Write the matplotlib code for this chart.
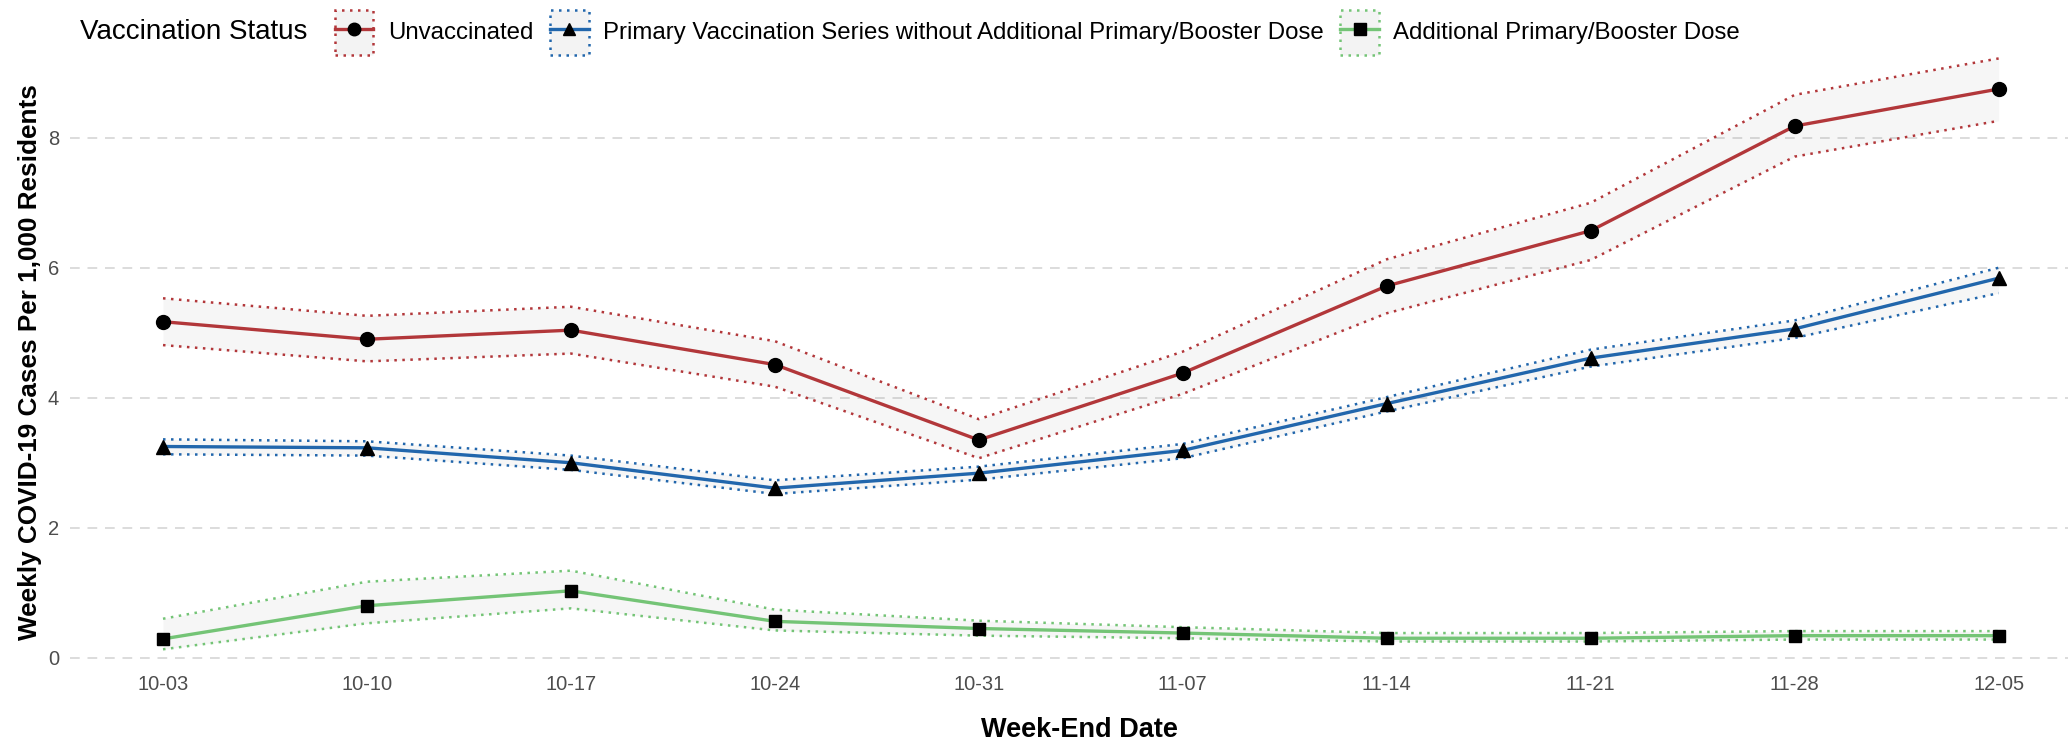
import matplotlib.pyplot as plt
from matplotlib.patches import Patch, Rectangle
from matplotlib.lines import Line2D
from matplotlib.legend_handler import HandlerPatch

plt.rcParams['font.family'] = ['Liberation Sans', 'DejaVu Sans']

# week-end dates and weekly cases per 1,000 residents (with CI bounds)
weeks = ["10-03", "10-10", "10-17", "10-24", "10-31",
         "11-07", "11-14", "11-21", "11-28", "12-05"]

unvax = [5.17, 4.90, 5.04, 4.51, 3.35, 4.38, 5.72, 6.57, 8.18, 8.75]
unvax_lo = [4.81, 4.56, 4.68, 4.17, 3.07, 4.06, 5.30, 6.12, 7.71, 8.26]
unvax_hi = [5.53, 5.26, 5.40, 4.87, 3.67, 4.71, 6.13, 7.00, 8.66, 9.22]

primary = [3.25, 3.23, 3.00, 2.61, 2.84, 3.19, 3.91, 4.61, 5.06, 5.84]
primary_lo = [3.13, 3.11, 2.89, 2.52, 2.74, 3.07, 3.79, 4.48, 4.92, 5.61]
primary_hi = [3.36, 3.33, 3.11, 2.73, 2.94, 3.29, 4.01, 4.74, 5.19, 6.00]

booster = [0.29, 0.80, 1.03, 0.56, 0.45, 0.38, 0.30, 0.30, 0.34, 0.34]
booster_lo = [0.13, 0.53, 0.76, 0.42, 0.34, 0.30, 0.25, 0.25, 0.28, 0.28]
booster_hi = [0.60, 1.17, 1.34, 0.74, 0.57, 0.47, 0.38, 0.38, 0.41, 0.41]

labels = ["Unvaccinated",
          "Primary Vaccination Series without Additional Primary/Booster Dose",
          "Additional Primary/Booster Dose"]
colors = ["#B2373A", "#2166AC", "#74C476"]
markers = ["o", "^", "s"]

series = [(unvax, unvax_lo, unvax_hi),
          (primary, primary_lo, primary_hi),
          (booster, booster_lo, booster_hi)]


def tall_box(legend, orig_handle, xdescent, ydescent, width, height, fontsize):
    # key box taller than the text row, like ggplot's ribbon keys
    extra = 8.5
    return Rectangle((-xdescent, -ydescent - extra - 1), width, height + 2 * extra)


fig = plt.figure(figsize=(20.7, 7.41), dpi=100)
ax = fig.add_axes([70 / 2070, 1 - 674 / 741, 1998 / 2070, (674 - 50) / 741])

x = list(range(len(weeks)))
dot = (0, (1, 2.2))
handles = []
for (y, lo, hi), c, m, lab in zip(series, colors, markers, labels):
    ax.fill_between(x, lo, hi, color="grey", alpha=0.07, lw=0, zorder=1)
    ax.plot(x, lo, color=c, lw=1.8, ls=dot, zorder=2)
    ax.plot(x, hi, color=c, lw=1.8, ls=dot, zorder=2)
    ms = 9 if m == "s" else 10
    ax.plot(x, y, color=c, lw=2.4, marker=m, ms=ms, mfc="black", mec="black", zorder=3)
    box = Patch(facecolor="#f3f3f3", edgecolor=c, linestyle=dot, linewidth=1.8)
    ln = Line2D([], [], color=c, lw=2.4, marker=m, ms=ms - 1, mfc="black", mec="black")
    handles.append((box, ln))

ax.set_xlim(-0.456, 9.34)
ax.set_ylim(-0.25, 9.35)
ax.set_xticks(x)
ax.set_xticklabels(weeks)
ax.set_yticks([0, 2, 4, 6, 8])
ax.tick_params(length=0, labelsize=14.5, colors="#4d4d4d")
ax.tick_params(axis="x", pad=1)
ax.tick_params(axis="y", pad=8)
ax.grid(axis="y", color="#dcdcdc", ls=(0, (5, 4)), lw=1.4)
ax.set_axisbelow(True)
for s in ax.spines.values():
    s.set_visible(False)

ax.set_xlabel("Week-End Date", fontsize=19.5, fontweight="bold")
ax.xaxis.set_label_coords(0.505, -0.09)
ax.xaxis.label.set_va("center")
ax.set_ylabel("Weekly COVID-19 Cases Per 1,000 Residents", fontsize=18.8, fontweight="bold")
ax.yaxis.set_label_coords(-0.02, 0.5)
ax.yaxis.label.set_va("center")

fig.text(80 / 2070, 1 - 32 / 741, "Vaccination Status", fontsize=20, va="center", ha="left")
fig.legend(handles, labels, loc="upper left", bbox_to_anchor=(335 / 2070, 1 - 20 / 741),
           ncol=3, frameon=False, fontsize=17.3, handlelength=1.6, handleheight=1.0,
           handletextpad=0.6, columnspacing=0.7, borderpad=0, borderaxespad=0,
           handler_map={Patch: HandlerPatch(patch_func=tall_box)})

fig.savefig("out.png", dpi=100)
